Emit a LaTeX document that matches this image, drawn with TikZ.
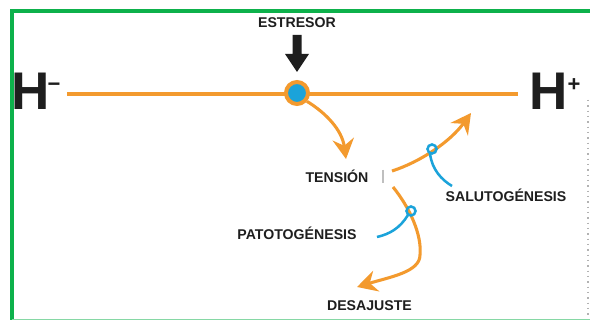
\documentclass[tikz,border=0pt]{standalone}
\usepackage{fontspec}
\setmainfont{Liberation Sans}
\usetikzlibrary{arrows.meta}
\definecolor{org}{HTML}{F39A2E}
\definecolor{blu}{HTML}{1BA3DA}
\definecolor{grn}{HTML}{0DB14B}
\definecolor{ink}{HTML}{1E1E1E}
\tikzset{
 lbl/.style={font=\fontsize{10.6}{12}\selectfont\bfseries, text=ink, inner sep=0pt, anchor=base},
 flow/.style={draw=org, line width=2.3pt, -{Stealth[length=15pt,width=16pt,inset=5pt]}},
 hook/.style={draw=blu, line width=1.9pt},
 hbig/.style={font=\fontsize{39.75}{40}\selectfont\bfseries, text=ink, inner sep=0pt, anchor=base west},
}
\begin{document}
\begin{tikzpicture}[x=0.75pt,y=-0.75pt]
\useasboundingbox (0,0) rectangle (590,320);
\fill[white] (0,0) rectangle (590,320);
% frame
\draw[grn, line width=3pt] (12,320) -- (12,11) -- (590,11);
\draw[grn!50, line width=1pt] (12,319.5) -- (590,319.5);
\draw[gray!60, line width=1pt, dash pattern=on 1pt off 3pt] (588,100) -- (588,318);
% axis
\coordinate (L) at (67,94);
\coordinate (R) at (518,94);
\draw[org, line width=3pt] (L) -- (R);
\node[circle, draw=org, line width=3pt, fill=blu, minimum size=16.5pt, inner sep=0pt] (E) at (297,93) {};
% stressor arrow
\fill[ink] (292.5,35) -- (301.5,35) -- (301.5,54) -- (309,54) -- (297,72) -- (285,54) -- (292.5,54) -- cycle;
% labels
\node[lbl] (est) at (297,28) {ESTRESOR};
\node[lbl] (ten) at (337,183) {TENSIÓN};
\node[lbl] (sal) at (506,202) {SALUTOGÉNESIS};
\node[lbl] (pat) at (297,240) {PATOTOGÉNESIS};
\node[lbl] (des) at (369.5,311) {DESAJUSTE};
\node[hbig] (hm) at (11,110) {H\kern-1.5pt\raisebox{13.5pt}{\fontsize{16.5}{16}\selectfont −}};
\node[hbig] (hp) at (529,110) {H\raisebox{13.5pt}{\fontsize{16.5}{16}\selectfont +}};
% tick
\draw[gray!50, line width=0.8pt] (383,170) -- (383,183);
% flows
\coordinate (t1) at (346,159);
\draw[flow] (E.-40) .. controls (326,113) and (342,130) .. (t1);
\coordinate (s0) at (392,171);
\coordinate (s1) at (471,113);
\draw[flow] (s0) .. controls (420,162) and (450,142) .. (s1);
\coordinate (d0) at (393,187);
\coordinate (d1) at (357,287);
\draw[flow] (d0) .. controls (410,208) and (422,235) .. (420,255) .. controls (420,272) and (390,277) .. (d1);
% hooks
\coordinate (hs) at (432,149);
\draw[hook] (hs) circle (4.5);
\draw[hook] (430,153.5) .. controls (432,170) and (442,180) .. (452,186);
\coordinate (hpt) at (411,211);
\draw[hook] (hpt) circle (4.5);
\draw[hook] (408,215) .. controls (400,228) and (390,234) .. (377,237);
\end{tikzpicture}
\end{document}
